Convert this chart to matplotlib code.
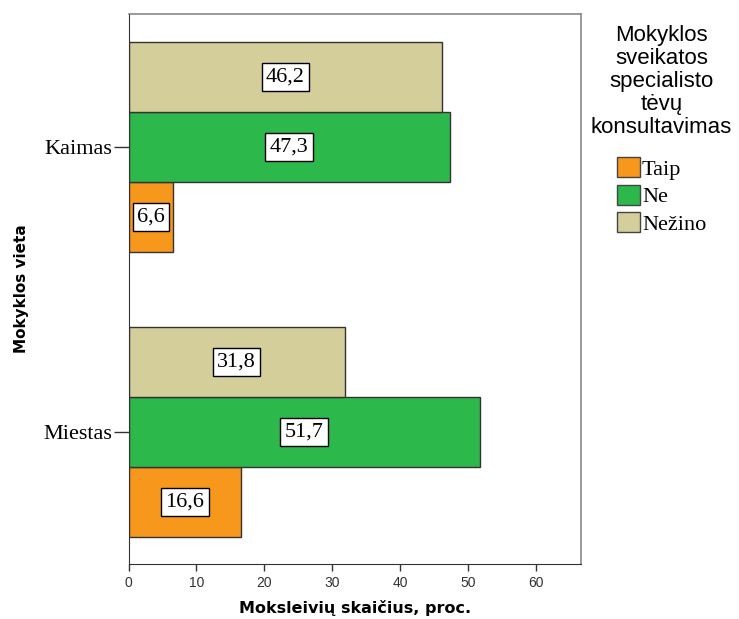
import numpy as np
import matplotlib.pyplot as plt
from matplotlib.patches import Patch

# Mokyklos vieta / atsakymai, proc.
places = ['Miestas', 'Kaimas']
answers = ['Taip', 'Ne', 'Nežino']
taip = [16.6, 6.6]
ne = [51.7, 47.3]
nezino = [31.8, 46.2]

colors = ['#F7981D', '#2DB84B', '#D3CE9A']
serif = ['Liberation Serif', 'DejaVu Serif']
sans = ['Liberation Sans', 'DejaVu Sans']

fig = plt.figure(figsize=(7.39, 6.19), dpi=100)
ax = fig.add_axes([0.1739, 0.0889, 0.6123, 0.8885])

y = np.arange(len(places))
h = 0.246
offsets = [-h, 0, h]
for vals, off, col in zip([taip, ne, nezino], offsets, colors):
    bars = ax.barh(y + off, vals, height=h, color=col, edgecolor='#333333', linewidth=1)
    for b, v in zip(bars, vals):
        ax.text(v / 2, b.get_y() + h / 2, f'{v:.1f}'.replace('.', ','),
                ha='center', va='center', fontsize=16, family=serif,
                bbox=dict(boxstyle='square,pad=0.2', fc='white', ec='black', lw=1))

ax.set_xlim(0, 66.6)
ax.set_ylim(-0.465, 1.467)
ax.set_xticks(range(0, 70, 10))
ax.set_yticks(y)
ax.set_yticklabels(places, family=serif, fontsize=16)
ax.tick_params(axis='x', length=5, width=1, labelsize=10, pad=4, colors='#333333')
ax.tick_params(axis='y', length=11, width=1, pad=1, colors='#333333', labelcolor='black')
for lab in ax.get_xticklabels():
    lab.set_family(sans)

for side in ['left', 'bottom']:
    ax.spines[side].set_color('#333333')
for side in ['top', 'right']:
    ax.spines[side].set_color('#888888')
    ax.spines[side].set_linewidth(1.2)

ax.set_xlabel('Moksleivių skaičius, proc.', fontsize=11.5, fontweight='bold', labelpad=7)
ax.set_ylabel('Mokyklos vieta', fontsize=11, fontweight='bold', labelpad=10)

handles = [Patch(facecolor=c, edgecolor='#444444', linewidth=1) for c in colors]
leg = fig.legend(handles, answers, loc='upper center', bbox_to_anchor=(0.895, 0.977),
                 frameon=False, prop={'family': serif, 'size': 16},
                 title='Mokyklos\nsveikatos\nspecialisto\ntėvų\nkonsultavimas',
                 title_fontproperties={'family': sans, 'size': 16},
                 handlelength=1.05, handleheight=1.0, handletextpad=0.1,
                 labelspacing=0.22, borderpad=0, alignment='center')
leg.get_title().set_multialignment('center')
leg.get_title().set_linespacing(1.12)
leg._legend_box.sep = 14

fig.savefig('out.png', dpi=100)
